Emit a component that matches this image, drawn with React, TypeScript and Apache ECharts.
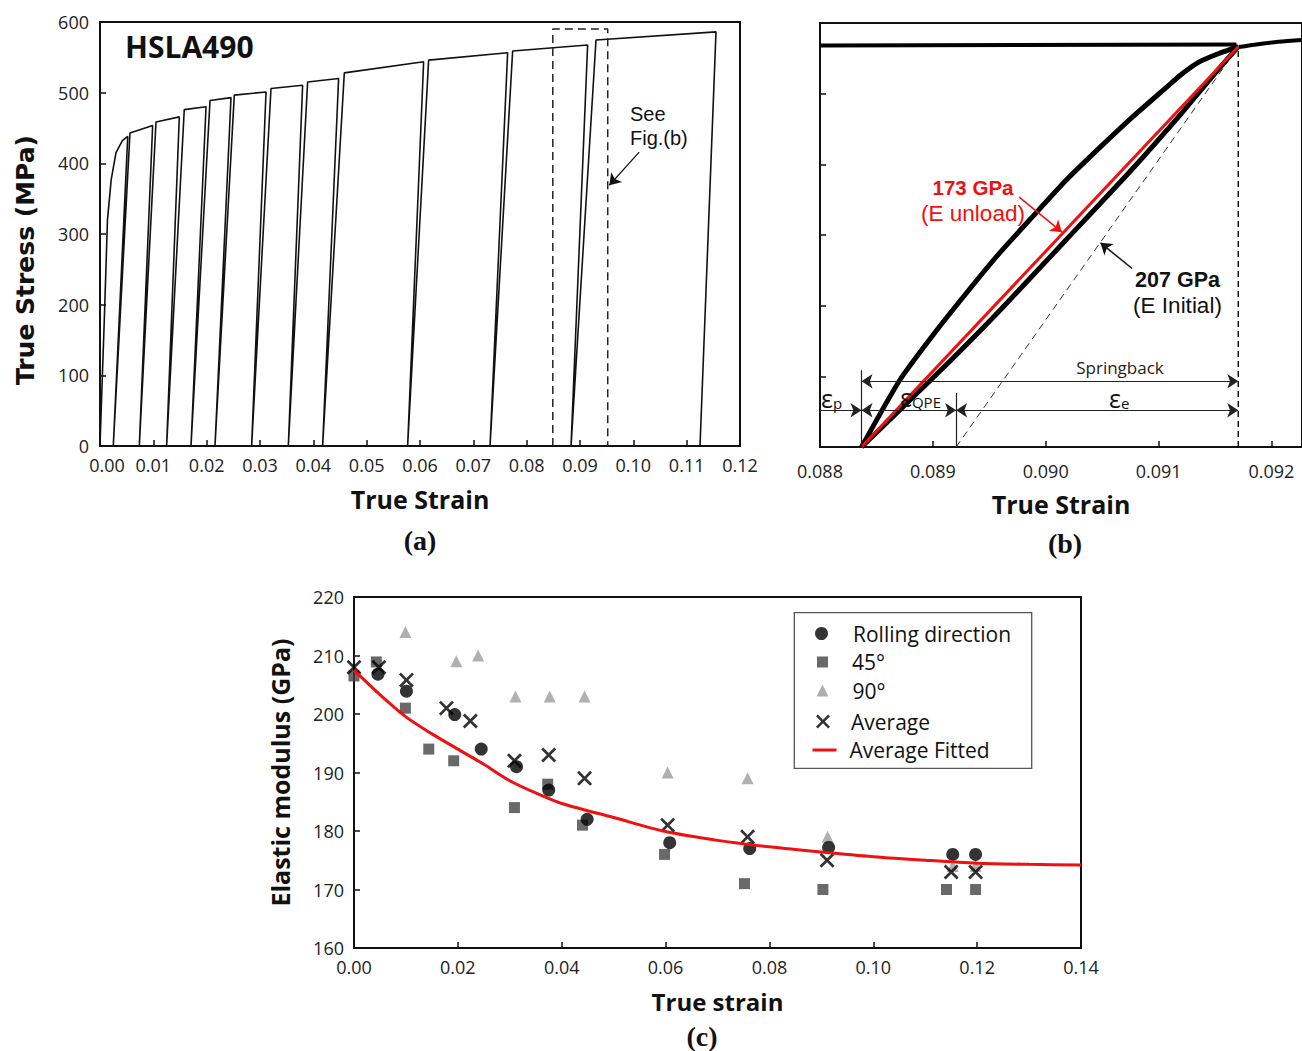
import React, { useEffect, useRef } from "react";
import * as echarts from "echarts";

// ---------------- Panel (a): cyclic loading / unloading ----------------
const aLoadStrain = [0, 0.00037, 0.0008, 0.0014, 0.0021, 0.003, 0.0042];
const aLoadStress = [0, 83, 177, 320, 377, 415, 432];
const aPeakStrain = [0.0052, 0.00987, 0.01487, 0.01988, 0.02456, 0.03113, 0.03799, 0.04474, 0.06068, 0.07643, 0.09143, 0.1155];
const aPeakStress = [438, 453.5, 465.7, 480, 493, 501, 510.6, 520, 543.7, 556.5, 567.4, 586];
const aZeroStrain = [0.00249, 0.00737, 0.01249, 0.01706, 0.02156, 0.02843, 0.03531, 0.04174, 0.05768, 0.07313, 0.08832, 0.1125];
const aKneeStrain = [0.00562, 0.0105, 0.0158, 0.02063, 0.02518, 0.03206, 0.03893, 0.04581, 0.06162, 0.07737, 0.093];
const aKneeStress = [443, 458.6, 476, 489, 496.5, 506, 515, 528, 546, 559, 574.5];
const aZoomBoxStrain = [0.0849, 0.0952];
const aZoomBoxTop = 590;
const aArrowFrom = [0.1011, 416];
const aArrowTo = [0.0955, 369];

// ---------------- Panel (b): zoom on one unloading loop ----------------
const bFlatStrain = [0.088, 0.09169];
const bFlatStress = [568, 569.5];
const bContStrain = [0.09171, 0.09188, 0.09206, 0.09227];
const bContStress = [566, 570, 573.5, 576];
const bUnloadStrain = [0.091706, 0.0915, 0.091353, 0.091206, 0.091059, 0.090765, 0.090471, 0.090176, 0.089882, 0.089588, 0.089294, 0.089, 0.088706, 0.088368];
const bUnloadStress = [566.5, 554.7, 544.3, 527.8, 507.5, 466.4, 422.5, 376.7, 325.7, 273.9, 217.2, 158.2, 94.5, 0];
const bReloadStrain = [0.088368, 0.088737, 0.089162, 0.089597, 0.090179, 0.090759, 0.091203, 0.0915, 0.091706];
const bReloadStress = [0, 57.1, 123.1, 193.9, 292.9, 392, 472.2, 528.8, 566.5];
const bPeak = [0.091706, 566.5];
const bZeroStrain = 0.088368;
const bElasticStart = 0.089206;
const bSpringbackY = 93;
const bArrowRowY = 52;
const bZeroMarkTop = 108.6;
const bElasticMarkTop = 76.5;
const bRedArrow = [[0.089765, 353.6], [0.090144, 304]];
const bBlackArrow = [[0.090765, 252.6], [0.090485, 288.9]];

// ---------------- Panel (c): elastic modulus vs true strain ----------------
const rdStrain = [0.0046, 0.0101, 0.0194, 0.0245, 0.0313, 0.0375, 0.0449, 0.0608, 0.0762, 0.0914, 0.1153, 0.1197];
const rdModulus = [206.8, 203.9, 199.9, 194, 191, 187, 182, 178, 177, 177.2, 176, 176];
const d45Strain = [0, 0.0043, 0.0099, 0.0144, 0.0192, 0.0309, 0.0373, 0.044, 0.0598, 0.0752, 0.0903, 0.1141, 0.1197];
const d45Modulus = [206.5, 208.9, 201, 194, 192, 184, 188, 181, 176, 171, 170, 170, 170];
const d90Strain = [0.0099, 0.0197, 0.0239, 0.0311, 0.0377, 0.0444, 0.0604, 0.0758, 0.0912, 0.1153, 0.1197];
const d90Modulus = [214, 209, 210, 203, 203, 203, 190, 189, 179, 174, 174];
const avgStrain = [0, 0.0048, 0.0101, 0.0178, 0.0224, 0.0309, 0.0375, 0.0444, 0.0604, 0.0758, 0.0911, 0.115, 0.1197];
const avgModulus = [208, 208, 205.8, 201, 198.8, 192, 193, 189, 181, 179, 175, 173, 173];
const fitStrain = [0, 0.005, 0.01, 0.015, 0.02, 0.025, 0.03, 0.035, 0.04, 0.05, 0.06, 0.07, 0.08, 0.09, 0.1, 0.11, 0.12, 0.13, 0.14];
const fitModulus = [207.5, 203.3, 199.5, 196.6, 194, 191.4, 188.6, 186.5, 184.7, 182.3, 179.9, 178.4, 177.3, 176.4, 175.6, 175, 174.5, 174.3, 174.2];

const seriesNames = ["Rolling direction", "45°", "90°", "Average", "Average Fitted"];

const SANS = "Open Sans";
const NOTE = "Liberation Sans";
const SERIF = "Liberation Serif";
const INK = "#111";
const RED = "#f01010";

const zip = (xs: number[], ys: number[]) => xs.map((x, i) => [x, ys[i]]);

const buildCycleCurve = () => {
  const pts: number[][] = zip(aLoadStrain, aLoadStress);
  for (let i = 0; i < aPeakStrain.length; i++) {
    pts.push([aPeakStrain[i], aPeakStress[i]]);
    pts.push([aZeroStrain[i], 0]);
    if (i < aKneeStrain.length) pts.push([aKneeStrain[i], aKneeStress[i]]);
  }
  return pts;
};

const CROSS = "path://M0,1.8L1.8,0L7,5.2L12.2,0L14,1.8L8.8,7L14,12.2L12.2,14L7,8.8L1.8,14L0,12.2L5.2,7Z";

const axisCommon = (extra: any) => ({
  type: "value",
  axisLine: { show: true, onZero: false, lineStyle: { color: INK, width: 2 } },
  axisTick: { show: true, inside: true, length: 6, lineStyle: { color: INK, width: 1.5 } },
  splitLine: { show: false },
  ...extra,
});

const legendRow = (item: any, left: number, top: number, w: number, h: number, pad: number) => ({
  data: [item],
  left,
  top,
  padding: 0,
  itemGap: 0,
  itemWidth: w,
  itemHeight: h,
  selectedMode: false,
  textStyle: { fontSize: 21, fontFamily: SANS, color: INK, padding: [0, 0, 0, pad] },
});

const epsText = (x: number, y: number, sub: string) => ({
  type: "text", x, y, z: 20, silent: true,
  style: {
    text: `{e|ε}{s|${sub}}`, align: "left", verticalAlign: "middle", fill: INK,
    rich: {
      e: { fontSize: 25, fontFamily: SANS, fill: INK },
      s: { fontSize: 15, fontFamily: SANS, fill: INK, padding: [10, 0, 0, 0] },
    },
  },
});

export default function App() {
  const ref = useRef<HTMLDivElement>(null);
  useEffect(() => {
    if (!ref.current) return;
    const chart = echarts.init(ref.current, undefined, { renderer: "svg" });
    const arrowLine = (coords: number[][][], sym: any, color: string, width: number, xi: number, yi: number) => ({
      type: "lines",
      coordinateSystem: "cartesian2d",
      xAxisIndex: xi,
      yAxisIndex: yi,
      symbol: sym,
      symbolSize: 11,
      lineStyle: { color, width, opacity: 1, curveness: 0 },
      z: 6,
      silent: true,
      data: coords.map((c) => ({ coords: c })),
    });
    const option: any = {
      animation: false,
      backgroundColor: "#fff",
      grid: [
        { left: 100, top: 22, width: 640, height: 424, show: true, borderColor: INK, borderWidth: 2 },
        { left: 820, top: 23, width: 484, height: 424, show: true, borderColor: INK, borderWidth: 2 },
        { left: 354, top: 597, width: 727, height: 351, show: true, borderColor: INK, borderWidth: 2 },
      ],
      xAxis: [
        axisCommon({
          gridIndex: 0, min: 0, max: 0.12, interval: 0.01,
          axisLabel: {
            fontSize: 18, fontFamily: SANS, color: "#222", margin: 10,
            formatter: (v: number) => (v === 0 ? "{m|0.00}" : v.toFixed(2)),
            rich: { m: { fontSize: 18, fontFamily: SANS, color: "#222", padding: [0, 0, 0, 14] } },
          },
          name: "True Strain", nameLocation: "middle", nameGap: 40,
          nameTextStyle: { fontSize: 25, fontWeight: "bold", fontFamily: SANS, color: INK },
        }),
        axisCommon({
          gridIndex: 1, min: 0.088, max: 0.0922706, interval: 0.001,
          axisLabel: { fontSize: 18, fontFamily: SANS, color: "#222", margin: 15, showMaxLabel: false, formatter: (v: number) => v.toFixed(3) },
          name: "True Strain", nameLocation: "middle", nameGap: 44,
          nameTextStyle: { fontSize: 25, fontWeight: "bold", fontFamily: SANS, color: INK },
        }),
        axisCommon({
          gridIndex: 2, min: 0, max: 0.14, interval: 0.02,
          axisLabel: { fontSize: 18, fontFamily: SANS, color: "#222", margin: 10, formatter: (v: number) => v.toFixed(2) },
          name: "True strain", nameLocation: "middle", nameGap: 41,
          nameTextStyle: { fontSize: 24, fontWeight: "bold", fontFamily: SANS, color: INK },
        }),
      ],
      yAxis: [
        axisCommon({
          gridIndex: 0, min: 0, max: 600, interval: 100,
          axisLabel: { fontSize: 18, fontFamily: SANS, color: "#222", margin: 11 },
          name: "True Stress (MPa)", nameLocation: "middle", nameRotate: 90, nameGap: 62,
          nameTextStyle: { fontSize: 25, fontWeight: "bold", fontFamily: "DejaVu Sans", color: INK, padding: [0, 52, 0, 0] },
        }),
        axisCommon({
          gridIndex: 1, min: 0, max: 600, interval: 100,
          axisLabel: { show: false },
        }),
        axisCommon({
          gridIndex: 2, min: 160, max: 220, interval: 10,
          axisLabel: { fontSize: 18, fontFamily: SANS, color: "#222", margin: 10 },
          name: "Elastic modulus (GPa)", nameLocation: "middle", nameRotate: 90, nameGap: 62,
          nameTextStyle: { fontSize: 25, fontWeight: "bold", fontFamily: SANS, color: INK },
        }),
      ],
      legend: [
        legendRow(seriesNames[0], 815, 623, 13, 13, 20),
        legendRow(seriesNames[1], 817, 651.5, 11, 11, 19),
        legendRow(seriesNames[2], 816.5, 680, 12, 12, 19),
        legendRow(seriesNames[3], 816, 711, 14, 14, 16),
        legendRow({ name: seriesNames[4], icon: "rect" }, 812.5, 739.5, 24, 3, 8),
      ],
      series: [
        // ---- (a)
        {
          type: "line", xAxisIndex: 0, yAxisIndex: 0, symbol: "none", silent: true,
          lineStyle: { color: INK, width: 1.6 },
          data: buildCycleCurve(),
        },
        {
          type: "line", xAxisIndex: 0, yAxisIndex: 0, symbol: "none", silent: true,
          lineStyle: { color: "#222", width: 1.5, type: [8, 5] },
          data: [
            [aZoomBoxStrain[0], 0], [aZoomBoxStrain[0], aZoomBoxTop],
            [aZoomBoxStrain[1], aZoomBoxTop], [aZoomBoxStrain[1], 0],
          ],
        },
        arrowLine([[aArrowFrom, aArrowTo]], ["none", "arrow"], INK, 1.2, 0, 0),
        // ---- (b)
        {
          type: "line", xAxisIndex: 1, yAxisIndex: 1, symbol: "none", silent: true,
          lineStyle: { color: "#333", width: 1, type: [7, 5] },
          data: [[bElasticStart, 0], bPeak],
        },
        {
          type: "line", xAxisIndex: 1, yAxisIndex: 1, symbol: "none", silent: true,
          lineStyle: { color: INK, width: 1.5, type: [6, 4] },
          data: [[bPeak[0], 0], bPeak],
        },
        {
          type: "line", xAxisIndex: 1, yAxisIndex: 1, symbol: "none", silent: true,
          lineStyle: { color: "#000", width: 4 },
          data: zip(bFlatStrain, bFlatStress),
        },
        {
          type: "line", xAxisIndex: 1, yAxisIndex: 1, symbol: "none", silent: true, smooth: 0.3,
          lineStyle: { color: "#000", width: 4 },
          data: zip(bContStrain, bContStress),
        },
        {
          type: "line", xAxisIndex: 1, yAxisIndex: 1, symbol: "none", silent: true, smooth: 0.2,
          lineStyle: { color: "#000", width: 5 },
          data: zip(bUnloadStrain, bUnloadStress),
        },
        {
          type: "line", xAxisIndex: 1, yAxisIndex: 1, symbol: "none", silent: true, smooth: 0.2,
          lineStyle: { color: "#000", width: 5 },
          data: zip(bReloadStrain, bReloadStress),
        },
        {
          type: "line", xAxisIndex: 1, yAxisIndex: 1, symbol: "none", silent: true, z: 5,
          lineStyle: { color: RED, width: 3 },
          data: [[bZeroStrain, 0], bPeak],
        },
        arrowLine(
          [
            [[bZeroStrain, 0], [bZeroStrain, bZeroMarkTop]],
            [[bElasticStart, 0], [bElasticStart, bElasticMarkTop]],
          ],
          ["none", "none"], "#222", 1.2, 1, 1
        ),
        arrowLine(
          [
            [[bZeroStrain, bSpringbackY], [bPeak[0], bSpringbackY]],
            [[bZeroStrain, bArrowRowY], [bElasticStart, bArrowRowY]],
            [[bElasticStart, bArrowRowY], [bPeak[0], bArrowRowY]],
          ],
          ["arrow", "arrow"], "#222", 1.2, 1, 1
        ),
        arrowLine([[[0.088, bArrowRowY], [bZeroStrain, bArrowRowY]]], ["none", "arrow"], "#222", 1.2, 1, 1),
        arrowLine([bRedArrow], ["none", "arrow"], RED, 1.5, 1, 1),
        arrowLine([bBlackArrow], ["none", "arrow"], INK, 1.5, 1, 1),
        // ---- (c)
        {
          name: seriesNames[0], type: "scatter", xAxisIndex: 2, yAxisIndex: 2, silent: true,
          symbol: "circle", symbolSize: 13, itemStyle: { color: "#000" },
          data: zip(rdStrain, rdModulus), z: 3,
        },
        {
          name: seriesNames[1], type: "scatter", xAxisIndex: 2, yAxisIndex: 2, silent: true,
          symbol: "rect", symbolSize: 11, itemStyle: { color: "#444" },
          data: zip(d45Strain, d45Modulus), z: 2,
        },
        {
          name: seriesNames[2], type: "scatter", xAxisIndex: 2, yAxisIndex: 2, silent: true,
          symbol: "triangle", symbolSize: 12, itemStyle: { color: "#9c9c9c" },
          data: zip(d90Strain, d90Modulus), z: 1,
        },
        {
          name: seriesNames[3], type: "scatter", xAxisIndex: 2, yAxisIndex: 2, silent: true,
          symbol: CROSS, symbolSize: 15, itemStyle: { color: "#000" },
          data: zip(avgStrain, avgModulus), z: 4,
        },
        {
          name: seriesNames[4], type: "line", xAxisIndex: 2, yAxisIndex: 2, silent: true,
          symbol: "none", smooth: 0.3, lineStyle: { color: RED, width: 3 }, itemStyle: { color: RED },
          data: zip(fitStrain, fitModulus), z: 5,
        },
      ],
      graphic: {
        elements: [
          { type: "text", x: 125, y: 46, z: 20, silent: true, style: { text: "HSLA490", fontSize: 30, fontWeight: "bold", fontFamily: SANS, fill: INK, align: "left", verticalAlign: "middle" } },
          { type: "text", x: 630, y: 126, z: 20, silent: true, style: { text: "See\nFig.(b)", fontSize: 20, lineHeight: 23.5, fontFamily: NOTE, fill: INK, align: "left", verticalAlign: "middle" } },
          { type: "text", x: 420, y: 540, z: 20, silent: true, style: { text: "(a)", fontSize: 28, fontWeight: "bold", fontFamily: SERIF, fill: INK, align: "center", verticalAlign: "middle" } },
          { type: "text", x: 1065, y: 543, z: 20, silent: true, style: { text: "(b)", fontSize: 28, fontWeight: "bold", fontFamily: SERIF, fill: INK, align: "center", verticalAlign: "middle" } },
          { type: "text", x: 702, y: 1036, z: 20, silent: true, style: { text: "(c)", fontSize: 28, fontWeight: "bold", fontFamily: SERIF, fill: INK, align: "center", verticalAlign: "middle" } },
          { type: "text", x: 1120, y: 367.5, z: 20, silent: true, style: { text: "Springback", fontSize: 17, fontFamily: SANS, fill: "#222", align: "center", verticalAlign: "middle" } },
          {
            type: "text", x: 973, y: 200.5, z: 20, silent: true,
            style: {
              text: "{b|173 GPa}\n{r|(E unload)}", align: "center", verticalAlign: "middle", fill: RED,
              rich: {
                b: { fontSize: 20.5, fontWeight: "bold", fontFamily: NOTE, fill: RED, lineHeight: 26.5, align: "center" },
                r: { fontSize: 22.5, fontFamily: NOTE, fill: RED, lineHeight: 26.5, align: "center" },
              },
            },
          },
          {
            type: "text", x: 1177.5, y: 292.8, z: 20, silent: true,
            style: {
              text: "{b|207 GPa}\n{r|(E Initial)}", align: "center", verticalAlign: "middle", fill: INK,
              rich: {
                b: { fontSize: 21.5, fontWeight: "bold", fontFamily: NOTE, fill: INK, lineHeight: 25.5, align: "center" },
                r: { fontSize: 22.5, fontFamily: NOTE, fill: INK, lineHeight: 25.5, align: "center" },
              },
            },
          },
          epsText(821, 398, "p"),
          epsText(900, 397, "QPE"),
          epsText(1109, 398, "e"),
          {
            type: "rect", z: 3, silent: true,
            shape: { x: 794.3, y: 612.7, width: 237.4, height: 155.6 },
            style: { fill: "#fff", stroke: "#555", lineWidth: 1.3 },
          },
        ],
      },
    };
    chart.setOption(option);
    return () => chart.dispose();
  }, []);
  return <div ref={ref} style={{ position: "absolute", left: 0, top: 0, width: 1302, height: 1051, background: "#fff" }} />;
}
